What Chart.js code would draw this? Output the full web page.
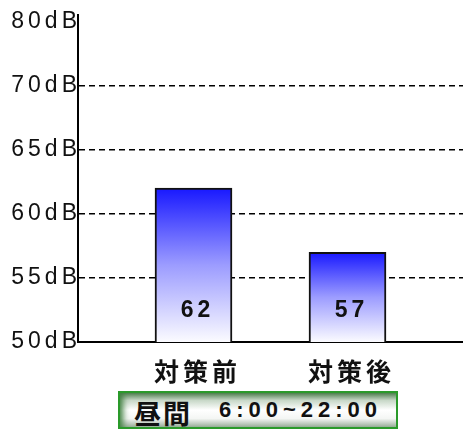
<!DOCTYPE html>
<html>
<head>
<meta charset="utf-8">
<script src="https://cdn.jsdelivr.net/npm/chart.js@4/dist/chart.umd.min.js"></script>
<style>
  body { margin: 0; background: #fff; }
  #wrap { position: relative; width: 463px; height: 430px; }
  #chart { position: absolute; left: 0; top: 0; }
  #period {
    position: absolute; left: 118px; top: 391px; width: 280px; height: 38px;
    box-sizing: border-box; border: 2px solid #2a9a2a;
    background: linear-gradient(to bottom, #4f7f4f 0%, #c8d8c8 22%, #ffffff 50%, #f4f6f4 75%, #9aae9a 100%);
    box-shadow: inset 8px 0 6px -5px #3f7f3f;
    font: bold 22px "Liberation Sans", Arial, sans-serif;
    letter-spacing: 5px; color: #111; text-align: center; line-height: 34px;
    white-space: nowrap;
  }
  #period .jp { font: bold 27px "Noto Sans CJK JP", sans-serif; letter-spacing: 2px; vertical-align: top; }
</style>
</head>
<body>
<div id="wrap">
  <canvas id="chart" width="463" height="390"></canvas>
  <div id="period"><span class="jp">昼間</span>　6:00~22:00</div>
</div>
<script>
// ---- DATA ----
const categories = ['対策前', '対策後'];
const levels = [62, 57];
const yTickValues = [50, 55, 60, 65, 70, 75];
const yTickLabels = ['50dB', '55dB', '60dB', '65dB', '70dB', '80dB'];

// spacer slots so the two bars sit at 30% / 70% of the plot width
const labels = [];
const values = [];
categories.forEach((c, i) => {
    labels.push('');
    values.push(null);
    labels.push(c);
    values.push(levels[i]);
});
labels.push('');
values.push(null);

// canvas letter spacing (state is lost whenever the canvas is resized)
// y axis is drawn before the datasets, x axis (z:1) after them
const spacingPlugin = {
    id: 'spacing',
    beforeUpdate(chart) { chart.ctx.letterSpacing = '4px'; },
    beforeDraw(chart) { chart.ctx.letterSpacing = '4px'; },
    beforeDatasetsDraw(chart) { chart.ctx.letterSpacing = '1px'; }
};

// each bar gets its own blue -> white gradient, from its top to the base
function barGradient(context) {
    const chart = context.chart;
    const y = chart.scales.y;
    if (!y || context.parsed == null || context.parsed.y == null) return '#8080ff';
    const top = y.getPixelForValue(context.parsed.y);
    const base = y.getPixelForValue(y.min);
    if (!isFinite(top) || !isFinite(base)) return '#8080ff';
    const g = chart.ctx.createLinearGradient(0, top, 0, base);
    g.addColorStop(0, '#1818ff');
    g.addColorStop(0.5, '#9c9cff');
    g.addColorStop(1, '#fbfbff');
    return g;
}

// value written near the foot of each bar
const barValuePlugin = {
    id: 'barValueText',
    afterDraw(chart) {
        const ctx = chart.ctx;
        const meta = chart.getDatasetMeta(0);
        const baseY = chart.scales.y.getPixelForValue(chart.scales.y.min);
        ctx.save();
        ctx.font = 'bold 23px "Liberation Sans", Arial, sans-serif';
        ctx.letterSpacing = '4px';
        ctx.fillStyle = '#111';
        ctx.textAlign = 'center';
        ctx.textBaseline = 'middle';
        for (let i = 0; i < meta.data.length; i++) {
            const v = values[i];
            if (v === null) continue;
            ctx.fillText(String(v), meta.data[i].x + 4, baseY - 31);
        }
        ctx.restore();
    }
};

new Chart(document.getElementById('chart'), {
    type: 'bar',
    data: {
        labels: labels,
        datasets: [{
            data: values,
            backgroundColor: barGradient,
            borderColor: '#111',
            borderWidth: 2,
            borderSkipped: false,
            barPercentage: 1,
            categoryPercentage: 1
        }]
    },
    options: {
        responsive: false,
        animation: false,
        layout: { padding: { top: 15, right: 0, left: 0, bottom: 0 } },
        plugins: { legend: { display: false }, tooltip: { enabled: false } },
        scales: {
            x: {
                z: 1,
                grid: { display: false },
                border: { color: '#000', width: 2 },
                ticks: {
                    color: '#111',
                    padding: 6,
                    labelOffset: 4,
                    autoSkip: false,
                    maxRotation: 0,
                    font: { family: '"Noto Sans CJK JP", sans-serif', size: 25, weight: 'bold' }
                },
                afterFit(scale) { scale.height = 48; }
            },
            y: {
                min: 50,
                max: 75.5,
                afterBuildTicks(scale) {
                    scale.ticks = yTickValues.map(v => ({ value: v }));
                },
                grid: {
                    drawTicks: false,
                    color: ctx => (ctx.tick && ctx.tick.value > 50 && ctx.tick.value < 75) ? '#000' : 'rgba(0,0,0,0)',
                    lineWidth: 1.5
                },
                border: { color: '#000', width: 2, dash: [6, 4] },
                ticks: {
                    color: '#111',
                    padding: -3,
                    font: { family: '"Liberation Sans", Arial, sans-serif', size: 23 },
                    callback: (v) => {
                        const i = yTickValues.indexOf(v);
                        return i >= 0 ? yTickLabels[i] : '';
                    }
                },
                afterFit(scale) { scale.width = 78; }
            }
        }
    },
    plugins: [spacingPlugin, barValuePlugin]
});
</script>
</body>
</html>
